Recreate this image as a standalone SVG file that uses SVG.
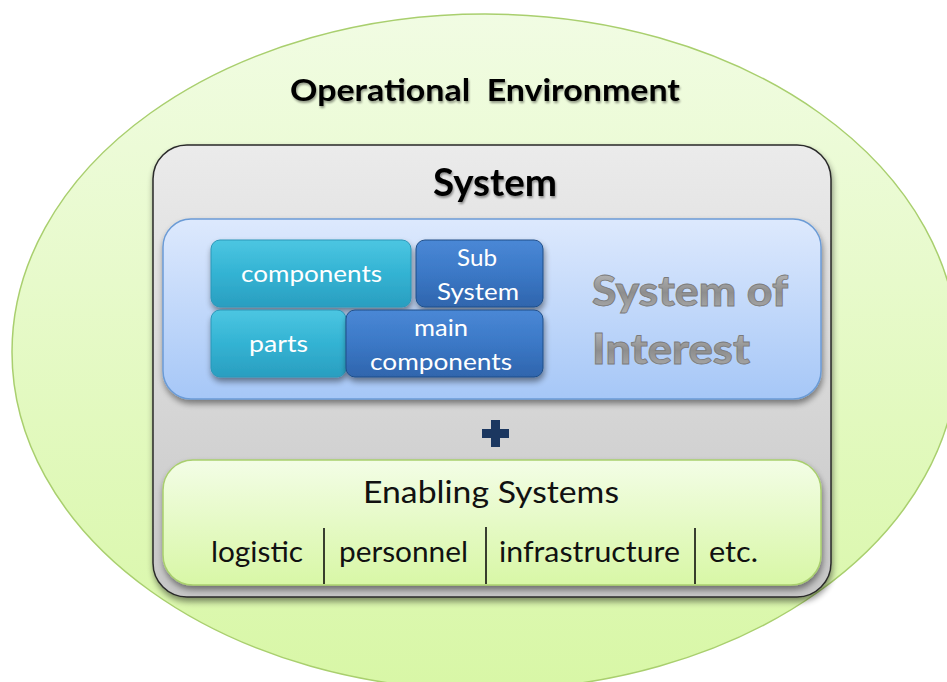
<svg xmlns="http://www.w3.org/2000/svg" width="947" height="682" viewBox="0 0 947 682">
  <defs>
    <linearGradient id="gEnv" x1="0" y1="0" x2="0" y2="1">
      <stop offset="0" stop-color="#f1fce3"/>
      <stop offset="1" stop-color="#d8f7a6"/>
    </linearGradient>
    <linearGradient id="gSys" x1="0" y1="0" x2="0" y2="1">
      <stop offset="0" stop-color="#ebebeb"/>
      <stop offset="1" stop-color="#c6c6c6"/>
    </linearGradient>
    <linearGradient id="gSoi" x1="0" y1="0" x2="0" y2="1">
      <stop offset="0" stop-color="#dde9fd"/>
      <stop offset="1" stop-color="#a6c7f7"/>
    </linearGradient>
    <linearGradient id="gEnab" x1="0" y1="0" x2="0" y2="1">
      <stop offset="0" stop-color="#f3fde6"/>
      <stop offset="1" stop-color="#d8f7a6"/>
    </linearGradient>
    <linearGradient id="gTeal" x1="0" y1="0" x2="0" y2="1">
      <stop offset="0" stop-color="#4cc6e2"/>
      <stop offset="0.5" stop-color="#33b3d3"/>
      <stop offset="1" stop-color="#2a9ec0"/>
    </linearGradient>
    <linearGradient id="gBlue" x1="0" y1="0" x2="0" y2="1">
      <stop offset="0" stop-color="#4a88d6"/>
      <stop offset="0.5" stop-color="#3b78c6"/>
      <stop offset="1" stop-color="#2f65ad"/>
    </linearGradient>
    <linearGradient id="gSoiText" x1="0" y1="0" x2="0" y2="1">
      <stop offset="0" stop-color="#c4c4c4"/>
      <stop offset="0.55" stop-color="#8e8e8e"/>
      <stop offset="1" stop-color="#b0b0b0"/>
    </linearGradient>
    <filter id="shadow" x="-10%" y="-10%" width="120%" height="125%">
      <feGaussianBlur in="SourceAlpha" stdDeviation="3"/>
      <feOffset dx="1" dy="4" result="b"/>
      <feComponentTransfer><feFuncA type="linear" slope="0.45"/></feComponentTransfer>
      <feMerge><feMergeNode/><feMergeNode in="SourceGraphic"/></feMerge>
    </filter>
    <filter id="tshadow" x="-10%" y="-20%" width="120%" height="150%">
      <feGaussianBlur in="SourceAlpha" stdDeviation="1.2"/>
      <feOffset dx="1" dy="2"/>
      <feComponentTransfer><feFuncA type="linear" slope="0.4"/></feComponentTransfer>
      <feMerge><feMergeNode/><feMergeNode in="SourceGraphic"/></feMerge>
    </filter>
  </defs>
  <style>
    .t { font-family: Lato, "Liberation Sans", sans-serif; }
    .title { font-weight: 700; fill: #000; }
    .w { fill: #ffffff; font-size: 23px; text-anchor: middle; }
    .k { fill: #111; text-anchor: middle; }
    .blk { stroke: #1f4e88; stroke-width: 1; }
    .soi { font-weight: 900; font-size: 42px; fill: url(#gSoiText); stroke: #7a7a7a; stroke-width: 0.8; }
    .div { stroke: #000; stroke-width: 1.5; }
  </style>

  <g id="operational-environment">
    <ellipse cx="485" cy="352" rx="473" ry="338" fill="url(#gEnv)" stroke="#a9cf6e" stroke-width="1.5"/>
    <text class="t title" x="485" y="101" font-size="31" text-anchor="middle" textLength="390" lengthAdjust="spacingAndGlyphs" filter="url(#tshadow)" xml:space="preserve">Operational  Environment</text>
  </g>

  <g id="system">
    <rect x="153" y="145" width="678" height="452" rx="34" fill="url(#gSys)" stroke="#2a2a2a" stroke-width="1.5" filter="url(#shadow)"/>
    <text class="t title" x="495" y="196" font-size="38" text-anchor="middle" textLength="124" lengthAdjust="spacingAndGlyphs" filter="url(#tshadow)">System</text>
  </g>

  <g id="system-of-interest">
    <rect x="163" y="219" width="658" height="180" rx="28" fill="url(#gSoi)" stroke="#6b9bd6" stroke-width="1.5" filter="url(#shadow)"/>
    <text class="t soi" x="592" y="306" textLength="196" lengthAdjust="spacingAndGlyphs">System of</text>
    <text class="t soi" x="592" y="364" textLength="158" lengthAdjust="spacingAndGlyphs">Interest</text>
  </g>

  <g id="components">
    <rect x="211" y="240" width="200" height="67" rx="9" fill="url(#gTeal)" stroke="#2a97b8" stroke-width="1" filter="url(#shadow)"/>
    <text class="t w" x="311.5" y="282" textLength="141" lengthAdjust="spacingAndGlyphs">components</text>
  </g>
  <g id="sub-system">
    <rect x="416" y="240" width="127" height="67" rx="9" fill="url(#gBlue)" class="blk" filter="url(#shadow)"/>
    <text class="t w" x="477" y="266" textLength="40" lengthAdjust="spacingAndGlyphs">Sub</text>
    <text class="t w" x="478" y="300" textLength="82" lengthAdjust="spacingAndGlyphs">System</text>
  </g>
  <g id="parts">
    <rect x="211" y="310" width="135" height="67" rx="9" fill="url(#gTeal)" stroke="#2a97b8" stroke-width="1" filter="url(#shadow)"/>
    <text class="t w" x="278.5" y="352" textLength="59" lengthAdjust="spacingAndGlyphs">parts</text>
  </g>
  <g id="main-components">
    <rect x="346" y="310" width="197" height="67" rx="9" fill="url(#gBlue)" class="blk" filter="url(#shadow)"/>
    <text class="t w" x="441" y="336" textLength="54" lengthAdjust="spacingAndGlyphs">main</text>
    <text class="t w" x="441" y="370" textLength="142" lengthAdjust="spacingAndGlyphs">components</text>
  </g>

  <g id="plus">
    <rect x="491" y="420" width="9" height="27" fill="#1b3760"/>
    <rect x="482" y="429" width="27" height="9" fill="#1b3760"/>
  </g>

  <g id="enabling-systems">
    <rect x="163" y="460" width="658" height="125" rx="30" fill="url(#gEnab)" stroke="#a9cf6e" stroke-width="1.5" filter="url(#shadow)"/>
    <text class="t k" x="491" y="503" font-size="31" textLength="256" lengthAdjust="spacingAndGlyphs">Enabling Systems</text>
    <text class="t k" x="257" y="562" font-size="28" textLength="92" lengthAdjust="spacingAndGlyphs">logistic</text>
    <text class="t k" x="403.5" y="562" font-size="28" textLength="129" lengthAdjust="spacingAndGlyphs">personnel</text>
    <text class="t k" x="589.5" y="562" font-size="28" textLength="181" lengthAdjust="spacingAndGlyphs">infrastructure</text>
    <text class="t k" x="733.5" y="562" font-size="28" textLength="49" lengthAdjust="spacingAndGlyphs">etc.</text>
  </g>

  <g id="connectors">
    <line class="div" x1="324" y1="528" x2="324" y2="584"/>
    <line class="div" x1="486" y1="527" x2="486" y2="584"/>
    <line class="div" x1="695" y1="528" x2="695" y2="584"/>
  </g>
</svg>
